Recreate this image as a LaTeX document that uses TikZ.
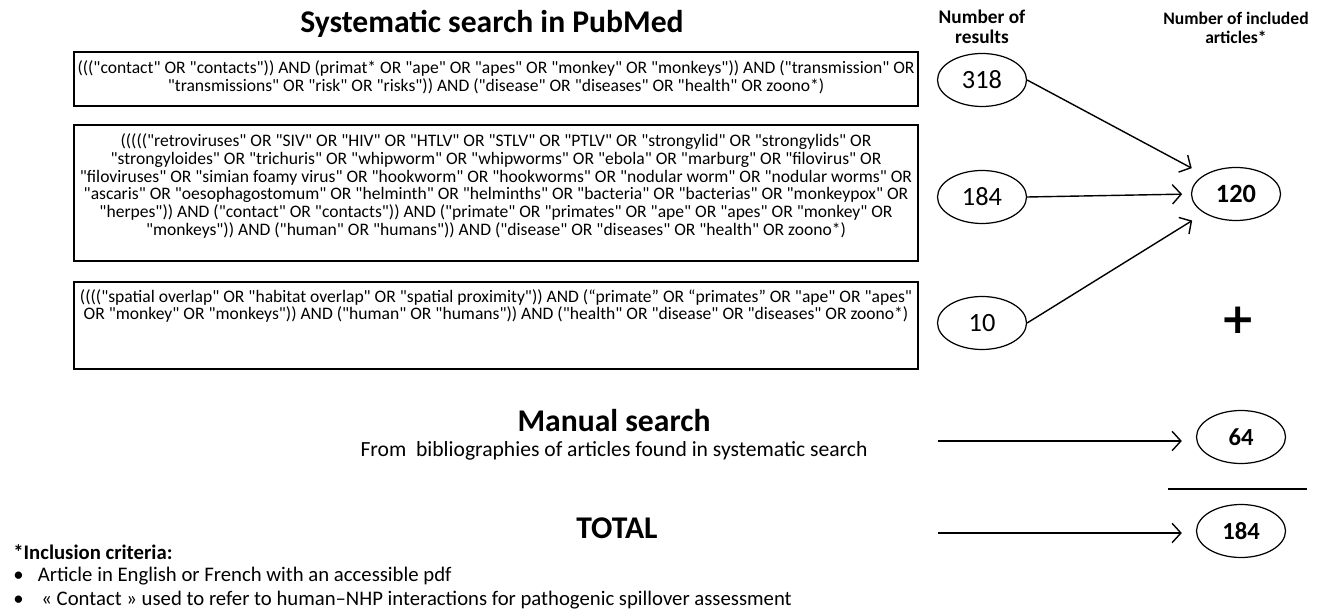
\documentclass[tikz,border=0pt]{standalone}
\usepackage{fontspec}
\setmainfont{Carlito}[Ligatures=TeXOff]
\newfontfamily\plusfont{DejaVu Sans}
\usetikzlibrary{shapes.geometric,arrows.meta,positioning}
\tikzset{
  qframe/.style={draw, line width=0.8pt, minimum width=16.88cm, inner sep=0pt},
  qtext/.style={align=center, inner sep=0pt, font=\fontsize{10}{10.2}\selectfont},
  count/.style={draw, ellipse, line width=0.7pt, minimum width=1.78cm, minimum height=1.06cm, inner sep=0pt, font=\fontsize{15}{15}\selectfont},
  total/.style={count, font=\fontsize{14}{14}\selectfont\bfseries},
  flow/.style={line width=0.8pt, -{Straight Barb[length=5pt,width=11pt]}},
  heading/.style={font=\fontsize{18}{18}\selectfont\bfseries},
  colhead/.style={align=center, inner sep=0pt, font=\fontsize{11}{11.5}\selectfont\bfseries},
  crit/.style={anchor=west, inner sep=0pt, font=\fontsize{11.8}{11.8}\selectfont},
}
\begin{document}
\begin{tikzpicture}[x=0.02cm, y=-0.02cm]
  \useasboundingbox (0,0) rectangle (1327,614);
  % systematic search
  \node[heading] (sys) at (492,24) {Systematic search in PubMed};
  \node[colhead] (hres) at (982,27) {Number of\\results};
  \node[colhead, font=\fontsize{10}{10.5}\selectfont\bfseries] (hinc) at (1236,28) {Number of included\\articles*};

  \node[qframe, minimum height=1.08cm] (f1) at (496,79) {};
  \node[qtext] (q1) at (496,77) {((("contact" OR "contacts")) AND (primat* OR "ape" OR "apes" OR "monkey" OR "monkeys")) AND ("transmission" OR\\
    "transmissions" OR "risk" OR "risks")) AND ("disease" OR "diseases" OR "health" OR zoono*)};

  \node[qframe, minimum height=2.72cm] (f2) at (496,193) {};
  \node[qtext] (q2) at (496,186) {((((("retroviruses" OR "SIV" OR "HIV" OR "HTLV" OR "STLV" OR "PTLV" OR "strongylid" OR "strongylids" OR\\
    "strongyloides" OR "trichuris" OR "whipworm" OR "whipworms" OR "ebola" OR "marburg" OR "filovirus" OR\\
    "filoviruses" OR "simian foamy virus" OR "hookworm" OR "hookworms" OR "nodular worm" OR "nodular worms" OR\\
    "ascaris" OR "oesophagostomum" OR "helminth" OR "helminths" OR "bacteria" OR "bacterias" OR "monkeypox" OR\\
    "herpes")) AND ("contact" OR "contacts")) AND ("primate" OR "primates" OR "ape" OR "apes" OR "monkey" OR\\
    "monkeys")) AND ("human" OR "humans")) AND ("disease" OR "diseases" OR "health" OR zoono*)};

  \node[qframe, minimum height=1.74cm] (f3) at (496,325.5) {};
  \node[qtext] (q3) at (496,306) {(((("spatial overlap" OR "habitat overlap" OR "spatial proximity")) AND (“primate” OR “primates” OR "ape" OR "apes"\\
    OR "monkey" OR "monkeys")) AND ("human" OR "humans")) AND ("health" OR "disease" OR "diseases" OR zoono*)};

  \node[count] (n318) at (982,80) {318};
  \node[count] (n184) at (982,197) {184};
  \node[count] (n10) at (982,323) {10};
  \node[total, font=\fontsize{15}{15}\selectfont\bfseries] (n120) at (1236,194) {120};
  \node[font=\fontsize{24}{24}\plusfont\bfseries] (plus) at (1238,320) {+};

  \draw[flow, shorten >=8pt] (n318.east) -- (n120.north west);
  \draw[flow, shorten >=5pt] (n184.east) -- (n120.west);
  \draw[flow, shorten >=8pt] (n10.east) -- (n120.south west);

  % manual search
  \node[heading] (man) at (614,421) {Manual search};
  \node[font=\fontsize{12.3}{12.3}\selectfont] (bib) at (614,451) {From\ \ bibliographies of articles found in systematic search};
  \node[total] (n64) at (1241,437) {64};
  \coordinate (manstart) at (938,441);
  \draw[flow, shorten >=8pt] (manstart) -- (manstart -| n64.west);

  \coordinate (sumleft) at (1168,489);
  \coordinate (sumright) at (1307,489);
  \draw[line width=0.8pt] (sumleft) -- (sumright);

  % total
  \node[heading] (tot) at (617,528) {TOTAL};
  \node[total] (n184t) at (1241,531) {184};
  \coordinate (totstart) at (938,533);
  \draw[flow, shorten >=8pt] (totstart) -- (totstart -| n184t.west);

  % inclusion criteria
  \node[crit, font=\fontsize{11.8}{11.8}\selectfont\bfseries] (crit) at (13,552) {*Inclusion criteria:};
  \node[crit] (crit1) at (13,576) {\makebox[14pt][l]{•}Article in English or French with an accessible pdf};
  \node[crit] (crit2) at (13,600) {\makebox[16pt][l]{•}« Contact » used to refer to human–NHP interactions for pathogenic spillover assessment};
\end{tikzpicture}
\end{document}
